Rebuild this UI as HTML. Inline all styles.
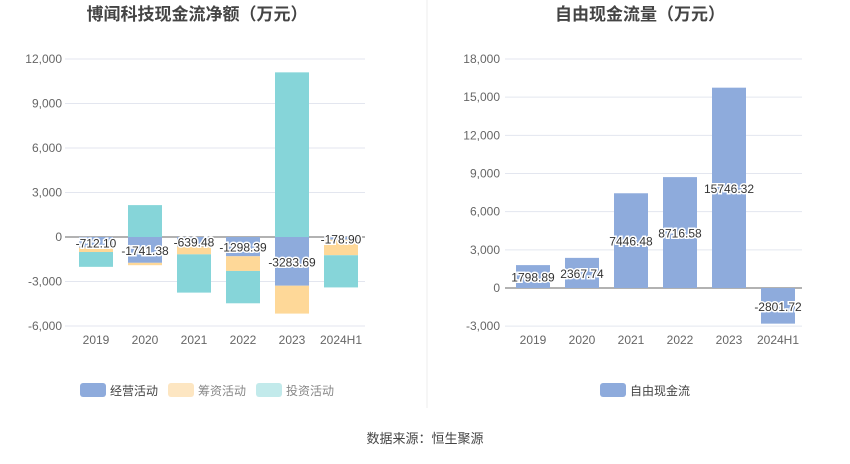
<!DOCTYPE html>
<html><head><meta charset="utf-8"><style>
body{margin:0;background:#fff;font-family:"Liberation Sans","Noto Sans CJK SC",sans-serif}
svg text{font-family:"Liberation Sans","Noto Sans CJK SC",sans-serif}
</style></head><body>
<svg id="s" width="850" height="459" xmlns="http://www.w3.org/2000/svg">
<text x="197" y="20" text-anchor="middle" font-size="17" font-weight="bold" fill="#444">博闻科技现金流净额（万元）</text>
<text x="640" y="20" text-anchor="middle" font-size="17" font-weight="bold" fill="#444">自由现金流量（万元）</text>
<line x1="427" y1="0" x2="427" y2="408" stroke="#eee"/>
<text x="425" y="443" text-anchor="middle" font-size="13" fill="#444">数据来源：恒生聚源</text>
<g id="L"></g><g id="R"></g>
<rect x="80" y="383" width="26" height="14" rx="3" fill="#8eabdc"/>
<text x="110" y="395" font-size="12" fill="#444">经营活动</text>
<rect x="168" y="383" width="26" height="14" rx="3" fill="#fde6c2"/>
<text x="198" y="395" font-size="12" fill="#888">筹资活动</text>
<rect x="256" y="383" width="26" height="14" rx="3" fill="#c2eaeb"/>
<text x="286" y="395" font-size="12" fill="#888">投资活动</text>
<rect x="600" y="383" width="26" height="14" rx="3" fill="#8eabdc"/>
<text x="630" y="395" font-size="12" fill="#444">自由现金流</text>
</svg>
<script>
const categories=["2019","2020","2021","2022","2023","2024H1"];
const operating=[-712.10,-1741.38,-639.48,-1298.39,-3283.69,-178.90];
const financing=[-300,-160,-530,-990,-1880,-1050];
const investing=[-1000,2150,-2580,-2180,11100,-2170];
const leftTicks=[12000,9000,6000,3000,0,-3000,-6000];
const fcf=[1798.89,2367.74,7446.48,8716.58,15746.32,-2801.72];
const rightTicks=[18000,15000,12000,9000,6000,3000,0,-3000];
const NS="http://www.w3.org/2000/svg";
function mk(p,t,a,txt){const e=document.createElementNS(NS,t);for(const k in a)e.setAttribute(k,a[k]);if(txt!==undefined)e.textContent=txt;p.appendChild(e);return e;}
function fmt(v){return v.toLocaleString('en-US');}
// left
const L=document.getElementById('L');
const ly=v=>237-v*178/12000, lx=i=>96+i*49;
leftTicks.forEach(t=>{const g=mk(L,'line',{x1:65,x2:365,y1:ly(t),y2:ly(t),stroke:t===0?'#666':'#e3e6ef'});
const tx=mk(L,'text',{x:62,y:ly(t)+4,'text-anchor':'end','font-size':12,fill:'#666'},fmt(t));});
categories.forEach((c,i)=>{let neg=0,pos=0;
[[operating,'#8eabdc','op'],[financing,'#fed898','fin'],[investing,'#86d5d9','inv']].forEach(([arr,col,n])=>{const v=arr[i];let y0,y1;
if(v<0){y0=neg;y1=neg+v;neg=y1;}else{y0=pos;y1=pos+v;pos=y1;}
const r=mk(L,'rect',{x:lx(i)-17,width:34,y:Math.min(ly(y0),ly(y1)),height:Math.abs(ly(y0)-ly(y1)),fill:col});

});
const t=mk(L,'text',{x:lx(i),y:ly(operating[i]/2)+5,'text-anchor':'middle','font-size':12,fill:'#333',stroke:'#fff','stroke-width':3,'paint-order':'stroke'},operating[i].toFixed(2));

const x=mk(L,'text',{x:lx(i),y:344,'text-anchor':'middle','font-size':12,fill:'#666'},c);
});
// right
const R=document.getElementById('R');
const ry=v=>288-v*229/18000, rx=i=>533+i*49;
rightTicks.forEach(t=>{const g=mk(R,'line',{x1:505,x2:802,y1:ry(t),y2:ry(t),stroke:t===0?'#666':'#e3e6ef'});
const tx=mk(R,'text',{x:500,y:ry(t)+4,'text-anchor':'end','font-size':12,fill:'#666'},fmt(t));});
categories.forEach((c,i)=>{const v=fcf[i];
const r=mk(R,'rect',{x:rx(i)-17,width:34,y:Math.min(ry(0),ry(v)),height:Math.abs(ry(v)-ry(0)),fill:'#8eabdc'});

const t=mk(R,'text',{x:rx(i),y:ry(v/2)+5,'text-anchor':'middle','font-size':12,fill:'#333',stroke:'#fff','stroke-width':3,'paint-order':'stroke'},v.toFixed(2));

const x=mk(R,'text',{x:rx(i),y:344,'text-anchor':'middle','font-size':12,fill:'#666'},c);
});
</script>
</body></html>
